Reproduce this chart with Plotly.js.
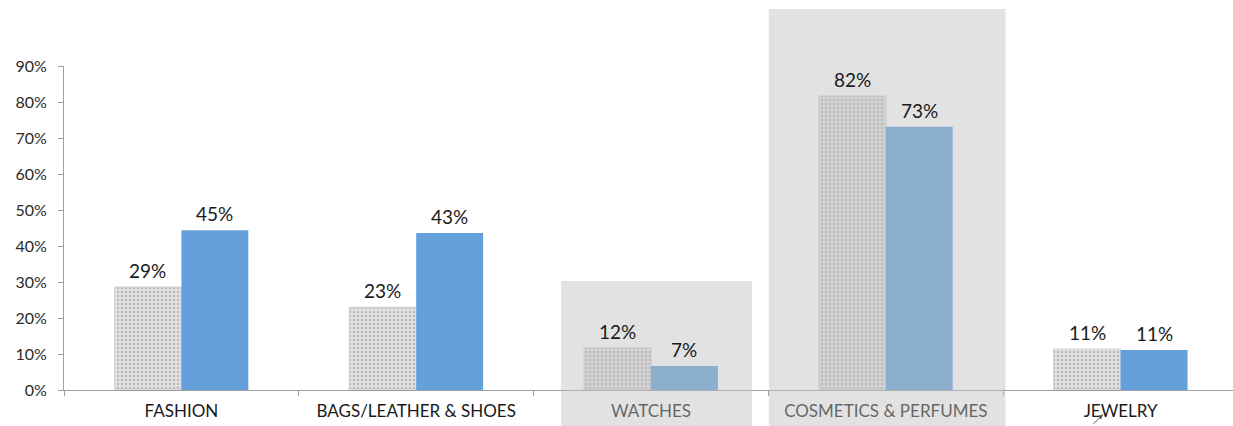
<!DOCTYPE html>
<html>
<head>
<meta charset="utf-8">
<script src="https://cdn.plot.ly/plotly-3.0.1.min.js"></script>
<style>html,body{margin:0;padding:0;overflow:hidden;background:#fff;}</style>
</head>
<body>
<div id="chart"></div>
<script>
const categories = ["FASHION", "BAGS/LEATHER & SHOES", "WATCHES", "COSMETICS & PERFUMES", "JEWELRY"];
const seriesA = [0.286, 0.230, 0.117, 0.817, 0.114];
const seriesB = [0.444, 0.436, 0.067, 0.731, 0.111];
const labelsA = ["29%", "23%", "12%", "82%", "11%"];
const labelsB = ["45%", "43%", "7%", "73%", "11%"];
const yTickVals = [0, 0.1, 0.2, 0.3, 0.4, 0.5, 0.6, 0.7, 0.8, 0.9];
const yTickText = ["0%", "10%", "20%", "30%", "40%", "50%", "60%", "70%", "80%", "90%"];

const FONT = "Lato, 'Open Sans', sans-serif";
const barHalf = 0.1426;

const traces = [
  {
    type: "bar", x: categories, y: seriesA, name: "A",
    marker: {
      color: "#e0e0e0",
      pattern: {shape: ".", fgcolor: "#b9b9b9", bgcolor: "#e3e3e3", size: 4, solidity: 0.35},
      line: {color: "#d2d2d2", width: 1}
    },
    hoverinfo: "skip"
  },
  {
    type: "bar", x: categories, y: seriesB, name: "B",
    marker: {color: "#63a0dc", line: {width: 0}},
    hoverinfo: "skip"
  }
];

const annotations = [];
categories.forEach((c, i) => {
  annotations.push({x: i - barHalf, y: seriesA[i], xref: "x", yref: "y", text: labelsA[i],
    showarrow: false, yanchor: "bottom", yshift: 3, font: {family: FONT, size: 19, color: "#1a1a1a"}});
  annotations.push({x: i + barHalf, y: seriesB[i], xref: "x", yref: "y", text: labelsB[i],
    showarrow: false, yanchor: "bottom", yshift: 3, font: {family: FONT, size: 19, color: "#1a1a1a"}});
});
annotations.push({x: 0.885, y: -0.075, xref: "paper", yref: "paper", text: "", showarrow: true,
  ax: -11, ay: 11, arrowhead: 2, arrowsize: 1, arrowwidth: 1, arrowcolor: "#555"});

const layout = {
  width: 1240, height: 426,
  margin: {l: 64, r: 2, t: 66, b: 36},
  paper_bgcolor: "#ffffff", plot_bgcolor: "#ffffff",
  showlegend: false,
  barmode: "group", bargap: 0.43, bargroupgap: 0,
  font: {family: FONT, color: "#222"},
  xaxis: {
    type: "category", showgrid: false, zeroline: false,
    showline: true, linecolor: "#a0a0a0", linewidth: 1,
    ticks: "outside", tickson: "boundaries", ticklen: 5, tickcolor: "#a0a0a0",
    ticklabelstandoff: 6,
    tickfont: {family: FONT, size: 17, color: "#1a1a1a"}
  },
  yaxis: {
    range: [0, 0.9], showgrid: false, zeroline: false,
    showline: true, linecolor: "#a0a0a0", linewidth: 1,
    ticks: "outside", ticklen: 5, tickcolor: "#a0a0a0",
    tickvals: yTickVals, ticktext: yTickText,
    ticklabelstandoff: 8,
    tickfont: {family: FONT, size: 16, color: "#2a2a2a"}
  },
  shapes: [
    {type: "rect", layer: "above", xref: "x", yref: "paper", x0: 1.617, x1: 2.43, y0: -0.12, y1: 0.3364,
      fillcolor: "rgba(190,190,190,0.45)", line: {width: 0}},
    {type: "rect", layer: "above", xref: "x", yref: "paper", x0: 2.502, x1: 3.51, y0: -0.12, y1: 1.176,
      fillcolor: "rgba(190,190,190,0.45)", line: {width: 0}}
  ],
  annotations: annotations
};

Plotly.newPlot("chart", traces, layout, {staticPlot: true, displayModeBar: false});
</script>
</body>
</html>
